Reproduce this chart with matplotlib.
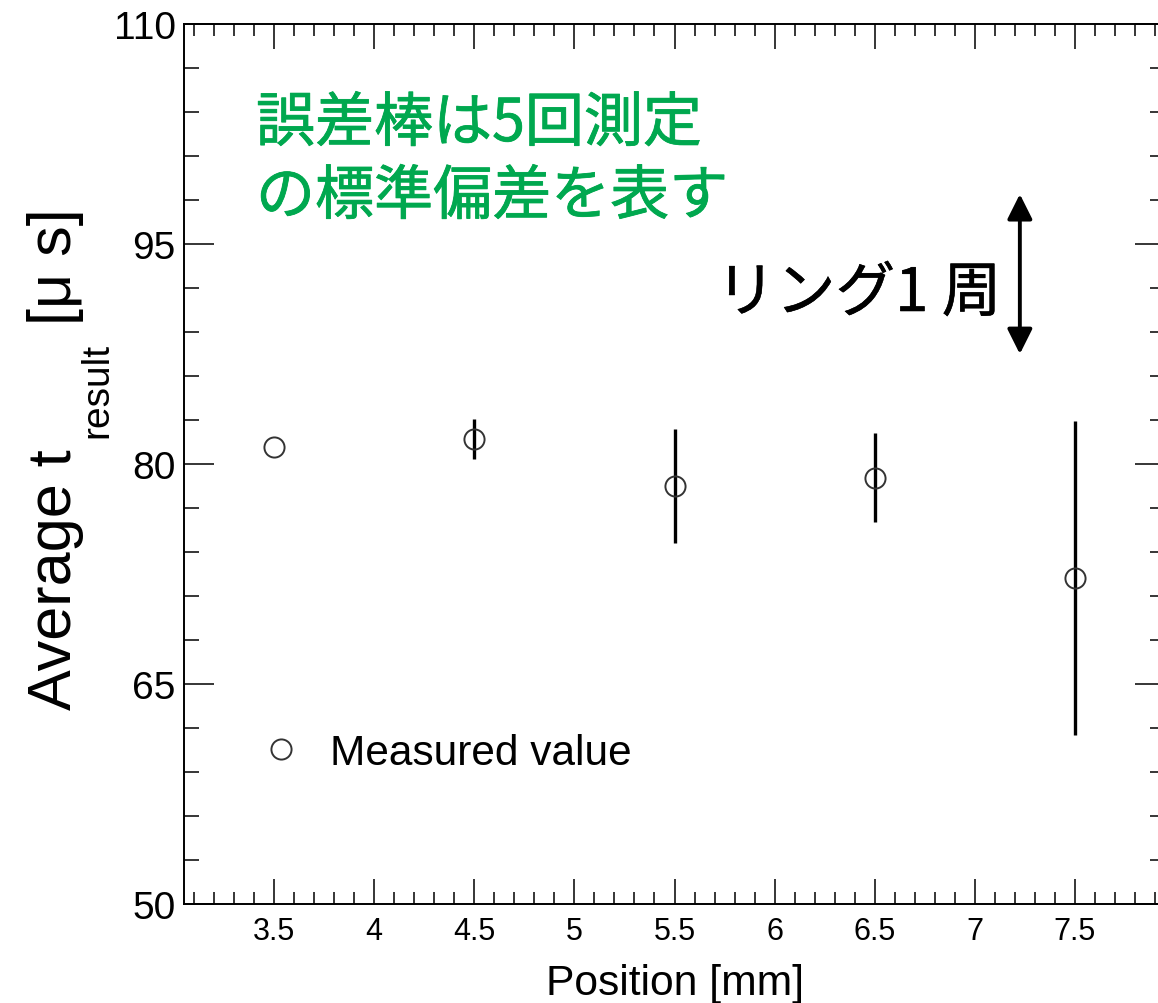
import matplotlib
matplotlib.use("Agg")
import matplotlib.pyplot as plt
import matplotlib.patheffects as pe
from matplotlib.ticker import FixedLocator, MultipleLocator, FormatStrFormatter

# ---- data ----
positions = [3.5, 4.5, 5.5, 6.5, 7.5]
avg_t = [81.15, 81.7, 78.5, 79.05, 72.25]
std_t = [0.0, 1.37, 3.9, 3.03, 10.7]
y_major = [50, 65, 80, 95, 110]
x_label = "Position [mm]"
legend_label = "Measured value"
note_lines = ["誤差棒は5回測定", "の標準偏差を表す"]
ring_label = "リング1 周"
ring_arrow_y = (87.5, 98.4)
ring_arrow_x = 7.225

W, H = 1158, 1004
def fx(px):
    return px / W
def fy(py):
    return 1 - py / H

plt.rcParams['font.family'] = ['Liberation Sans', 'DejaVu Sans']
fig = plt.figure(figsize=(W / 100, H / 100), dpi=100)
ax = fig.add_axes([fx(184), fy(905), (1165 - 184) / W, (905 - 25) / H])
ax.set_xlim(3.05, 7.95)
ax.set_ylim(50, 110)

eb = ax.errorbar(positions, avg_t, yerr=std_t, fmt='o', mfc='none', mec='#333333',
                 mew=1.4, ms=14.5, ecolor='black', elinewidth=2.4, capsize=0, zorder=3)

ax.xaxis.set_major_locator(MultipleLocator(0.5))
ax.xaxis.set_minor_locator(MultipleLocator(0.1))
ax.yaxis.set_major_locator(FixedLocator(y_major))
ax.yaxis.set_minor_locator(MultipleLocator(3, offset=2))
ax.xaxis.set_major_formatter(FormatStrFormatter('%g'))
ax.yaxis.set_major_formatter(FormatStrFormatter('%g'))

for s in ax.spines.values():
    s.set_linewidth(1.4)
ax.tick_params(axis='x', which='major', direction='in', top=True, bottom=True,
               length=18, width=1.1, labelsize=22, pad=9)
ax.tick_params(axis='x', which='minor', direction='in', top=True, bottom=True,
               length=8.6, width=1.1)
ax.tick_params(axis='y', which='major', direction='in', left=True, right=True,
               length=21.5, width=1.1, labelsize=28, pad=6)
ax.tick_params(axis='y', which='minor', direction='in', left=True, right=True,
               length=10.8, width=1.1)

# axis titles
fig.text((184 + 1165) / 2 / W, fy(995), x_label, ha='center', va='baseline', fontsize=30.7)
fig.text(fx(71), fy(710), "Average t", rotation=90, rotation_mode='anchor',
         ha='left', va='baseline', fontsize=44)
fig.text(fx(107), fy(438), "result", rotation=90, rotation_mode='anchor',
         ha='left', va='baseline', fontsize=28)
fig.text(fx(71), fy(325), "[μ s]", rotation=90, rotation_mode='anchor',
         ha='left', va='baseline', fontsize=44)

# legend
ax.legend([eb[0]], [legend_label], loc='center left', frameon=False,
          bbox_to_anchor=(fx(260), fy(754)), bbox_transform=fig.transFigure,
          prop={'family': 'Liberation Sans', 'size': 30.5},
          handlelength=1.0, handletextpad=0.66, borderpad=0, borderaxespad=0)

# annotations
cjk = ['Noto Sans CJK JP', 'DejaVu Sans']
green = '#00A84F'
g_fx = [pe.withStroke(linewidth=0.6, foreground=green)]
k_fx = [pe.withStroke(linewidth=0.4, foreground='black')]
fig.text(fx(256), fy(142), note_lines[0], family=cjk, fontsize=42.5, fontweight='normal',
         color=green, ha='left', va='baseline', path_effects=g_fx)
fig.text(fx(256), fy(215), note_lines[1], family=cjk, fontsize=42.5, fontweight='normal',
         color=green, ha='left', va='baseline', path_effects=g_fx)
fig.text(fx(716), fy(312), ring_label, family=cjk, fontsize=43, fontweight='normal',
         color='black', ha='left', va='baseline', path_effects=k_fx)
ax.annotate('', xy=(ring_arrow_x, ring_arrow_y[1]), xytext=(ring_arrow_x, ring_arrow_y[0]),
            arrowprops=dict(arrowstyle='<|-|>,head_length=0.4,head_width=0.2',
                            lw=2.8, color='black', mutation_scale=38,
                            shrinkA=0, shrinkB=0))

fig.savefig('out.png', dpi=100)
